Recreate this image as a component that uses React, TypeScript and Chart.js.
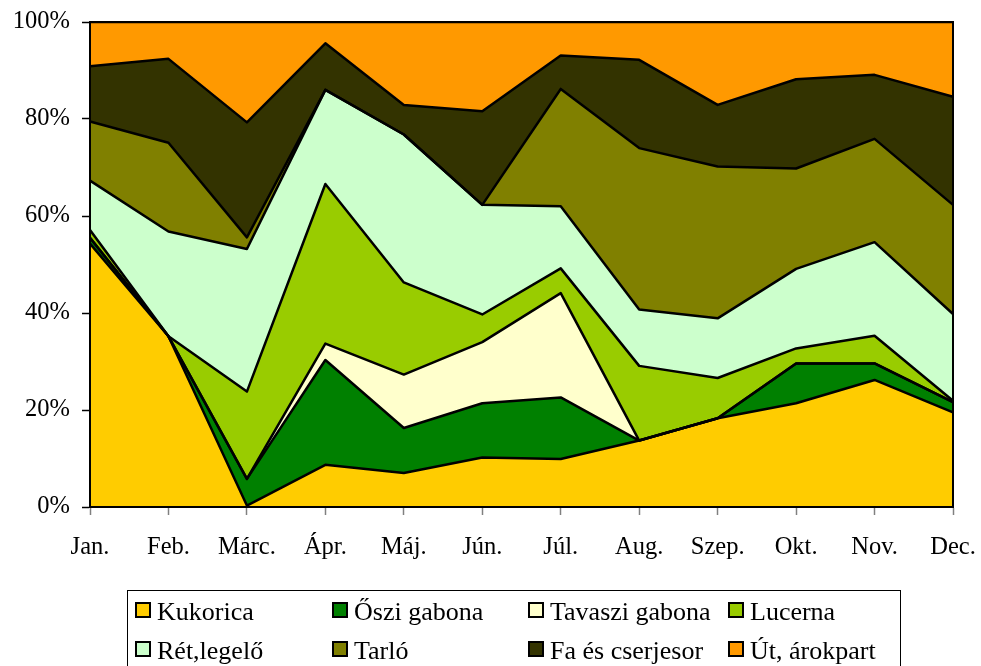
import React, { useEffect, useRef } from "react";
import { Chart, registerables } from "chart.js";

Chart.register(...registerables);

const categories = ["Jan.", "Feb.", "Márc.", "Ápr.", "Máj.", "Jún.", "Júl.", "Aug.", "Szep.", "Okt.", "Nov.", "Dec."];

const kukorica = [54.3, 35.2, 0.3, 8.7, 7.0, 10.2, 9.9, 13.7, 18.3, 21.4, 26.2, 19.5];
const osziGabona = [1.2, 0, 5.5, 21.6, 9.3, 11.2, 12.7, 0, 0, 8.2, 3.4, 2.1];
const tavasziGabona = [0, 0, 0, 3.4, 11.0, 12.6, 21.5, 0, 0, 0, 0, 0];
const lucerna = [1.6, 0, 18.0, 32.9, 19.0, 5.7, 5.1, 15.4, 8.3, 3.1, 5.7, 0.3];
const retLegelo = [10.2, 21.6, 29.4, 19.4, 30.5, 22.6, 12.8, 11.6, 12.3, 16.4, 19.3, 17.9];
const tarlo = [12.2, 18.3, 2.4, 0, 0, 0, 24.2, 33.3, 31.3, 20.7, 21.3, 22.5];
const faCserje = [11.4, 17.3, 23.7, 9.6, 6.1, 19.3, 6.9, 18.2, 12.7, 18.4, 13.2, 22.3];
const utArokpart = [9.1, 7.6, 20.7, 4.4, 17.1, 18.4, 6.9, 7.8, 17.1, 11.8, 10.9, 15.4];

const seriesLabels = ["Kukorica", "Őszi gabona", "Tavaszi gabona", "Lucerna", "Rét,legelő", "Tarló", "Fa és cserjesor", "Út, árokpart"];
const seriesColors = ["#FFCC00", "#008000", "#FFFFCC", "#99CC00", "#CCFFCC", "#808000", "#333300", "#FF9900"];
const seriesValues = [kukorica, osziGabona, tavasziGabona, lucerna, retLegelo, tarlo, faCserje, utArokpart];

const yTicks = [0, 20, 40, 60, 80, 100];

const FONT = "'Liberation Serif', 'Times New Roman', serif";

const frameAndLegend = {
  id: "frameAndLegend",
  afterDatasetsDraw(chart: any) {
    const { ctx, chartArea } = chart;
    ctx.save();
    ctx.strokeStyle = "#000";
    ctx.lineWidth = 2;
    ctx.strokeRect(chartArea.left, chartArea.top, chartArea.right - chartArea.left, chartArea.bottom - chartArea.top);
    ctx.restore();
  },
  afterDraw(chart: any) {
    const { ctx } = chart;
    ctx.save();
    ctx.strokeStyle = "#000";
    ctx.lineWidth = 1;
    ctx.strokeRect(127.5, 590.5, 773, 100);
    const cols = [136, 333, 529, 729];
    const rows = [603, 642];
    const baselines = [620, 659];
    ctx.font = `26px ${FONT}`;
    ctx.textBaseline = "alphabetic";
    ctx.textAlign = "left";
    chart.data.datasets.forEach((ds: any, i: number) => {
      const c = i % 4;
      const r = Math.floor(i / 4);
      const x = cols[c];
      const y = rows[r];
      ctx.fillStyle = ds.backgroundColor;
      ctx.fillRect(x, y, 14, 14);
      ctx.lineWidth = 2;
      ctx.strokeStyle = "#000";
      ctx.strokeRect(x, y, 14, 14);
      ctx.fillStyle = "#000";
      ctx.fillText(ds.label, x + 21, baselines[r]);
    });
    ctx.restore();
  },
};

export default function App() {
  const ref = useRef<HTMLCanvasElement | null>(null);
  useEffect(() => {
    if (!ref.current) return;
    const chart = new Chart(ref.current, {
      type: "line",
      data: {
        labels: categories,
        datasets: seriesValues.map((vals, i) => ({
          label: seriesLabels[i],
          data: vals,
          backgroundColor: seriesColors[i],
          borderColor: "#000",
          borderWidth: 2.5,
          borderJoinStyle: "round",
          pointRadius: 0,
          pointHoverRadius: 0,
          tension: 0,
          fill: i === 0 ? "origin" : "-1",
        })),
      },
      options: {
        animation: false,
        responsive: false,
        events: [],
        layout: { padding: { top: 22, right: 28, bottom: 89, left: 0 } },
        plugins: {
          legend: { display: false },
          tooltip: { enabled: false },
          filler: { drawTime: "beforeDatasetsDraw" },
        },
        scales: {
          x: {
            offset: false,
            grid: { drawOnChartArea: false, drawTicks: true, tickLength: 8, tickColor: "#808080", tickWidth: 1.5 },
            border: { display: true, color: "#000", width: 2 },
            ticks: { color: "#000", font: { family: FONT, size: 24.5 }, padding: 18, maxRotation: 0, autoSkip: false },
            afterFit: (axis: any) => {
              axis.height = 70;
              axis.paddingLeft = 0;
              axis.paddingRight = 0;
              axis.paddingTop = 0;
              axis.paddingBottom = 0;
            },
          },
          y: {
            stacked: true,
            min: 0,
            max: 100,
            afterBuildTicks: (axis: any) => { axis.ticks = yTicks.map((v) => ({ value: v })); },
            grid: { drawOnChartArea: false, drawTicks: true, tickLength: 8, tickColor: "#000", tickWidth: 1.5 },
            border: { display: true, color: "#000", width: 2 },
            ticks: { color: "#000", font: { family: FONT, size: 24.5 }, padding: 12, callback: (v: any) => `${v}%` },
            afterFit: (axis: any) => {
              axis.width = 90;
              axis.paddingLeft = 0;
              axis.paddingRight = 0;
              axis.paddingTop = 0;
              axis.paddingBottom = 0;
            },
          },
        },
      },
      plugins: [frameAndLegend],
    } as any);
    return () => chart.destroy();
  }, []);
  return (
    <div style={{ position: "absolute", left: 0, top: 0, width: 981, height: 666, background: "#fff" }}>
      <canvas ref={ref} width={981} height={666} />
    </div>
  );
}
